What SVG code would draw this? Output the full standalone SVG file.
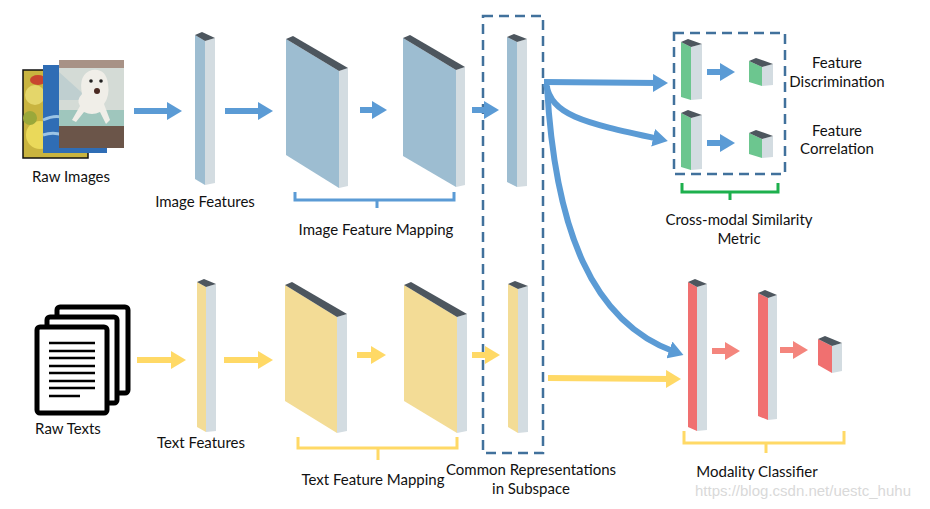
<svg xmlns="http://www.w3.org/2000/svg" width="930" height="509" viewBox="0 0 930 509">
<defs>
<style>
.lbl{font-family:Lato,"Open Sans","Liberation Sans",sans-serif;font-size:15px;fill:#111;text-anchor:middle}
.wm{font-family:"Liberation Sans",Arial,sans-serif;font-size:15px;fill:#d9d9d9;text-anchor:start}
.top{fill:#4d565e}
.side{fill:#d3dce1}
.fb{fill:#9dbdd1}
.fy{fill:#f3dc96}
.fg{fill:#6cc68f}
.fr{fill:#f07070}
.ab{stroke:#5b9bd5;stroke-width:6;fill:none}
.ay{stroke:#ffd966;stroke-width:6;fill:none}
.ar{stroke:#f4857d;stroke-width:6;fill:none}
.brb{stroke:#5b9bd5;stroke-width:3;fill:none}
.bry{stroke:#ffd966;stroke-width:3;fill:none}
.brg{stroke:#1db04d;stroke-width:3;fill:none}
.dash{stroke:#41719c;stroke-width:2.5;fill:none;stroke-dasharray:10 6}
.page{fill:#fff;stroke:#000;stroke-width:5;stroke-linejoin:round}
.tl{stroke:#000;stroke-width:2.6}
</style>
<marker id="mb" markerUnits="userSpaceOnUse" markerWidth="16" markerHeight="18" refX="6" refY="9" orient="auto"><path d="M0,0 L15,9 L0,18 z" fill="#5b9bd5"/></marker>
<marker id="my" markerUnits="userSpaceOnUse" markerWidth="16" markerHeight="18" refX="6" refY="9" orient="auto"><path d="M0,0 L15,9 L0,18 z" fill="#ffd966"/></marker>
<marker id="mr" markerUnits="userSpaceOnUse" markerWidth="16" markerHeight="18" refX="6" refY="9" orient="auto"><path d="M0,0 L15,9 L0,18 z" fill="#f4857d"/></marker>
</defs>
<rect width="930" height="509" fill="#fff"/>

<!-- Raw images -->
<g id="raw-images">
<rect x="23" y="70" width="65" height="88" fill="#c9b43f" stroke="#111" stroke-width="1.5"/>
<circle cx="35" cy="95" r="10" fill="#e4d66a"/>
<circle cx="40" cy="135" r="14" fill="#ead95a"/>
<circle cx="30" cy="118" r="7" fill="#9aa83a"/>
<ellipse cx="38" cy="80" rx="8" ry="5" fill="#c8452f"/>
<rect x="43" y="65" width="64" height="88" fill="#2f6db5"/>
<path d="M43,120 Q60,112 70,122 M43,135 Q58,130 72,140" stroke="#9cc4e4" stroke-width="3" fill="none"/>
<rect x="59" y="60" width="65" height="88" fill="#d4dbd6"/>
<rect x="59" y="60" width="65" height="8" fill="#a89286"/>
<path d="M59,72 L90,100 L59,100 z" fill="#bfcfd0"/>
<rect x="59" y="110" width="65" height="16" fill="#9fc6bd"/>
<rect x="59" y="126" width="65" height="22" fill="#6b5549"/>
<path d="M82,94 Q78,74 92,70 Q106,68 108,84 Q110,96 104,104 L110,120 L106,124 L100,112 Q92,116 84,112 L76,122 L72,120 L80,106 Q76,100 82,94 z" fill="#f0eee8"/>
<circle cx="91" cy="81" r="1.8" fill="#222"/>
<circle cx="101" cy="81" r="1.8" fill="#222"/>
<circle cx="97" cy="91" r="3" fill="#4a2a22"/>
</g>
<text class="lbl" x="71" y="182">Raw Images</text>

<!-- Raw texts -->
<g id="raw-texts">
<rect class="page" x="57" y="307" width="71" height="86" rx="3"/>
<rect class="page" x="47" y="317" width="70" height="86" rx="3"/>
<rect class="page" x="37" y="327" width="70" height="86" rx="3"/>
<path class="tl" d="M49,343H95M49,351H95M49,358H95M49,366H95M49,373H95M49,381H95M49,388H95M49,396H80"/>
</g>
<text class="lbl" x="68" y="434">Raw Texts</text>

<!-- Image features -->
<g id="image-features">
<polygon class="fb" points="195,35 205,41 205,185 195,179"/>
<polygon class="side" points="205,41 215,38 215,183 205,185"/>
<polygon class="top" points="195,35 202,32 215,38 205,41"/>
</g>
<text class="lbl" x="205" y="207">Image Features</text>

<g id="image-map-1">
<polygon class="fb" points="286,39 339,71 339,188 286,155"/>
<polygon class="side" points="339,71 348,68 348,186 339,188"/>
<polygon class="top" points="286,39 293,36 348,68 339,71"/>
</g>
<g id="image-map-2">
<polygon class="fb" points="403,38 456,70 456,187 403,156"/>
<polygon class="side" points="456,70 465,67 465,185 456,187"/>
<polygon class="top" points="403,38 410,35 465,67 456,70"/>
</g>
<g id="image-common">
<polygon class="fb" points="507,37 517,42 517,187 507,182"/>
<polygon class="side" points="517,42 527,39 527,186 517,187"/>
<polygon class="top" points="507,37 514,34 527,39 517,42"/>
</g>
<path class="brb" d="M295,192V200H454V192M377,200V208"/>
<text class="lbl" x="376" y="235">Image Feature Mapping</text>

<!-- Text features -->
<g id="text-features">
<polygon class="fy" points="197,282 206,287 206,432 197,427"/>
<polygon class="side" points="206,287 216,284 216,431 206,432"/>
<polygon class="top" points="197,282 204,279 216,284 206,287"/>
</g>
<text class="lbl" x="201" y="448">Text Features</text>

<g id="text-map-1">
<polygon class="fy" points="285,285 337,317 337,433 285,401"/>
<polygon class="side" points="337,317 347,314 347,431 337,433"/>
<polygon class="top" points="285,285 292,282 347,314 337,317"/>
</g>
<g id="text-map-2">
<polygon class="fy" points="404,285 457,317 457,433 404,401"/>
<polygon class="side" points="457,317 467,314 467,431 457,433"/>
<polygon class="top" points="404,285 411,282 467,314 457,317"/>
</g>
<g id="text-common">
<polygon class="fy" points="508,284 518,289 518,433 508,427"/>
<polygon class="side" points="518,289 528,286 528,432 518,433"/>
<polygon class="top" points="508,284 515,281 528,286 518,289"/>
</g>
<path class="bry" d="M298,437V448H457V437M378,448V460"/>
<text class="lbl" x="373" y="485">Text Feature Mapping</text>

<!-- Common subspace -->
<g id="common-subspace">
<rect class="dash" x="483" y="16" width="60" height="437"/>
</g>
<text class="lbl" x="531" y="475">Common Representations</text>
<text class="lbl" x="531" y="494">in Subspace</text>

<!-- Similarity metric -->
<g id="similarity-metric">
<rect class="dash" x="674" y="33" width="111" height="141"/>
<polygon class="fg" points="681,42 691,47 691,100 681,97"/>
<polygon class="side" points="691,47 702,44 702,99 691,100"/>
<polygon class="top" points="681,42 688,39 702,44 691,47"/>
<polygon class="fg" points="681,113 691,118 691,170 681,167"/>
<polygon class="side" points="691,118 702,115 702,169 691,170"/>
<polygon class="top" points="681,113 688,110 702,115 691,118"/>
<polygon class="fg" points="749,61 762,67 762,86 749,82"/>
<polygon class="side" points="762,67 773,64 773,85 762,86"/>
<polygon class="top" points="749,61 756,58 773,64 762,67"/>
<polygon class="fg" points="749,133 762,139 762,158 749,154"/>
<polygon class="side" points="762,139 773,136 773,157 762,158"/>
<polygon class="top" points="749,133 756,130 773,136 762,139"/>
</g>
<path class="brg" d="M682,183V192H778V183M730,192V200"/>
<text class="lbl" x="837" y="68">Feature</text>
<text class="lbl" x="837" y="87">Discrimination</text>
<text class="lbl" x="837" y="136">Feature</text>
<text class="lbl" x="837" y="154">Correlation</text>
<text class="lbl" x="739" y="225">Cross-modal Similarity</text>
<text class="lbl" x="739" y="244">Metric</text>

<!-- Modality classifier -->
<g id="modality-classifier">
<polygon class="fr" points="688,282 697,287 697,431 688,427"/>
<polygon class="side" points="697,287 707,284 707,430 697,431"/>
<polygon class="top" points="688,282 695,279 707,284 697,287"/>
<polygon class="fr" points="758,293 768,298 768,420 758,416"/>
<polygon class="side" points="768,298 777,295 777,419 768,420"/>
<polygon class="top" points="758,293 765,290 777,295 768,298"/>
<polygon class="fr" points="818,339 832,346 832,373 818,365"/>
<polygon class="side" points="832,346 842,343 842,371 832,373"/>
<polygon class="top" points="818,339 825,336 842,343 832,346"/>
</g>
<path class="bry" d="M684,431V443H844V431M766,443V453"/>
<text class="lbl" x="757" y="477">Modality Classifier</text>

<!-- Connectors -->
<g id="connectors">
<path class="ab" d="M134,111H173" marker-end="url(#mb)"/>
<path class="ab" d="M225,111H264" marker-end="url(#mb)"/>
<path class="ab" d="M360,110H378" marker-end="url(#mb)"/>
<path class="ab" d="M472,110H490" marker-end="url(#mb)"/>
<path class="ab" d="M544,82L659,83" marker-end="url(#mb)"/>
<path class="ab" d="M546,84C552,115 580,122 659,139" marker-end="url(#mb)"/>
<path class="ab" d="M547,86C555,230 592,322 675,352" marker-end="url(#mb)"/>
<path class="ab" d="M707,72H726" marker-end="url(#mb)"/>
<path class="ab" d="M707,143H726" marker-end="url(#mb)"/>
<path class="ay" d="M137,360H177" marker-end="url(#my)"/>
<path class="ay" d="M224,360H264" marker-end="url(#my)"/>
<path class="ay" d="M357,355H377" marker-end="url(#my)"/>
<path class="ay" d="M472,355H491" marker-end="url(#my)"/>
<path class="ay" d="M548,378L672,379" marker-end="url(#my)"/>
<path class="ar" d="M712,351H731" marker-end="url(#mr)"/>
<path class="ar" d="M780,350H799" marker-end="url(#mr)"/>
</g>

<text class="wm" x="695" y="496">https://blog.csdn.net/uestc_huhu</text>
</svg>
